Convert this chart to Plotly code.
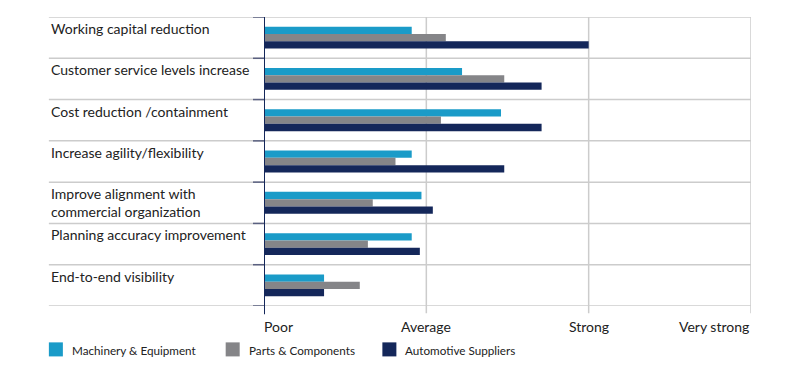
import plotly.graph_objects as go

categories = [
    "Working capital reduction",
    "Customer service levels increase",
    "Cost reduction /containment",
    "Increase agility/flexibility",
    "Improve alignment with<br>commercial organization",
    "Planning accuracy improvement",
    "End-to-end visibility",
]
series_names = ["Machinery & Equipment", "Parts & Components", "Automotive Suppliers"]
machinery = [0.91, 1.22, 1.46, 0.91, 0.97, 0.91, 0.37]
parts = [1.12, 1.48, 1.09, 0.81, 0.67, 0.64, 0.59]
automotive = [2.00, 1.71, 1.71, 1.48, 1.04, 0.96, 0.37]
tick_vals = [0, 1, 2, 3]
tick_labels = ["Poor", "Average", "Strong", "Very strong"]
colors = ["#1a9bc8", "#858588", "#14275a"]

OFF = 8  # page body margin
W, H = 800 - 2 * OFF, 382 - 2 * OFF
L, R, T, B = 264 - OFF, 750.7 - OFF, 17.3 - OFF, 305.7 - OFF
PW, PH = R - L, B - T


def px2x(px):
    return (px - OFF - L) / PW


def px2y(py):
    return (B - (py - OFF)) / PH


FONT = "Lato"
TXT = "#222222"

fig = go.Figure()
for name, vals, col in zip(series_names, [machinery, parts, automotive], colors):
    fig.add_trace(go.Bar(
        y=list(range(len(categories))), x=vals, name=name, orientation="h",
        marker=dict(color=col, line=dict(width=0)), showlegend=False,
    ))

shapes = []
n = len(categories)
for k in range(n + 1):
    shapes.append(dict(type="line", xref="paper", yref="y", x0=px2x(49), x1=1,
                       y0=k - 0.5, y1=k - 0.5, line=dict(color="#cccccc", width=1.5),
                       layer="below"))
    shapes.append(dict(type="line", xref="paper", yref="y", x0=px2x(253), x1=0,
                       y0=k - 0.5, y1=k - 0.5, line=dict(color="#5a6080", width=1.5),
                       layer="above"))
for v in tick_vals[1:]:
    shapes.append(dict(type="line", xref="x", yref="paper", x0=v, x1=v,
                       y0=px2y(313), y1=1, line=dict(color="#cccccc", width=1.5),
                       layer="below"))
shapes.append(dict(type="line", xref="x", yref="paper", x0=0, x1=0,
                   y0=px2y(314), y1=1, line=dict(color="#14275a", width=2),
                   layer="above"))

annotations = []
for k, c in enumerate(categories):
    annotations.append(dict(text=c, xref="paper", yref="y", x=px2x(49), y=k - 0.5,
                            xanchor="left", yanchor="top", yshift=-1, showarrow=False,
                            align="left", font=dict(family=FONT, size=14, color=TXT)))
anchors = ["left", "center", "center", "right"]
for v, lab, a in zip(tick_vals, tick_labels, anchors):
    annotations.append(dict(text=lab, xref="x", yref="paper", x=v, y=px2y(326),
                            xanchor=a, yanchor="middle", showarrow=False,
                            xshift=-2 if a == "left" else 0,
                            font=dict(family=FONT, size=14, color=TXT)))

leg_x = [49, 225.7, 382.3]
for lx, name, col in zip(leg_x, series_names, colors):
    shapes.append(dict(type="rect", xref="paper", yref="paper", x0=px2x(lx), x1=px2x(lx + 14),
                       y0=px2y(356), y1=px2y(342), fillcolor=col, line=dict(width=0)))
    annotations.append(dict(text=name, xref="paper", yref="paper", x=px2x(lx + 21), y=px2y(350),
                            xanchor="left", yanchor="middle", showarrow=False,
                            font=dict(family=FONT, size=11.7, color=TXT)))

fig.update_layout(
    width=W, height=H,
    margin=dict(l=L, r=W - R, t=T, b=H - B, pad=0),
    paper_bgcolor="white", plot_bgcolor="white",
    barmode="group", bargap=0.47, bargroupgap=0,
    xaxis=dict(range=[0, 3], showgrid=False, zeroline=False, showticklabels=False,
               ticks="", showline=False, fixedrange=True),
    yaxis=dict(range=[n - 0.5, -0.5], showgrid=False, zeroline=False, showticklabels=False,
               ticks="", showline=False, fixedrange=True),
    shapes=shapes, annotations=annotations, showlegend=False,
)

fig.write_html("out.html")
